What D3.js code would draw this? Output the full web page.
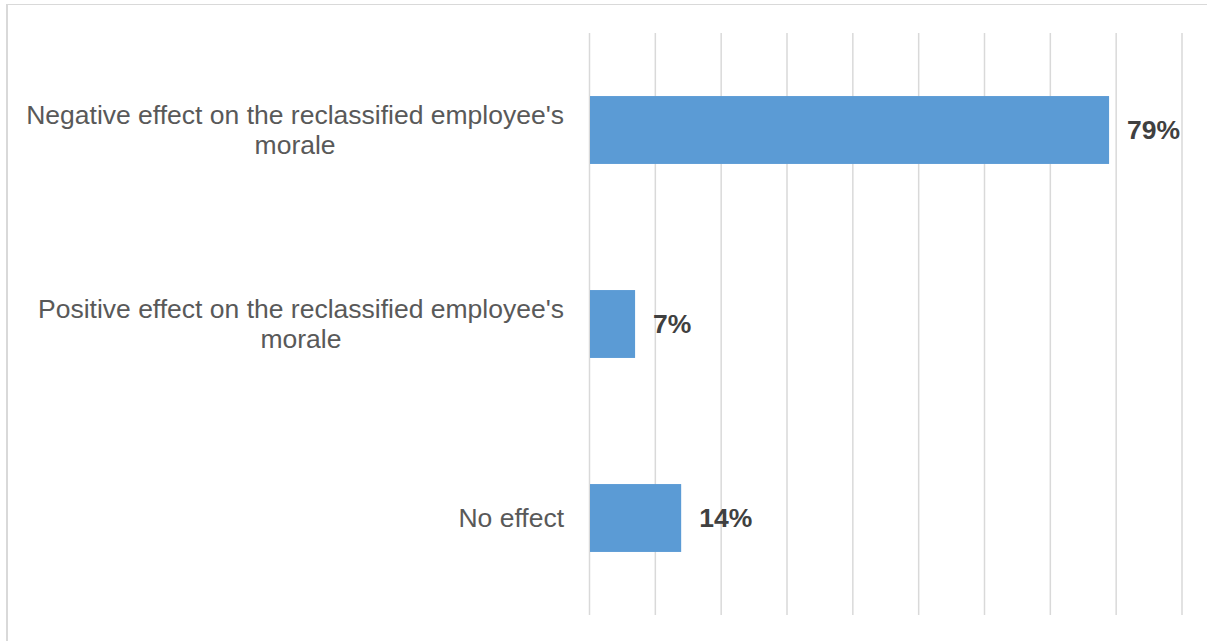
<!DOCTYPE html>
<html>
<head>
<meta charset="utf-8">
<script src="https://cdn.jsdelivr.net/npm/d3@7/dist/d3.min.js"></script>
<style>
  html, body { margin: 0; padding: 0; background: #ffffff; }
  svg { display: block; }
  text { font-family: "Liberation Sans", Arial, sans-serif; }
</style>
</head>
<body>
<svg id="chart" width="1207" height="641"></svg>
<script>
// Survey responses: effect of reclassification on morale
const categories = [
  "Negative effect on the reclassified employee's\nmorale",
  "Positive effect on the reclassified employee's\nmorale",
  "No effect"
];
const values = [0.79, 0.07, 0.14];
const gridTicks = [0, 0.1, 0.2, 0.3, 0.4, 0.5, 0.6, 0.7, 0.8, 0.9];

const W = 1207, H = 641;
const plot = { left: 589, right: 1181.5, top: 33, bottom: 615 };

const svg = d3.select("#chart");

// Outer frame (only top and left edges fall inside the view)
svg.append("line")
  .attr("x1", 6).attr("x2", W).attr("y1", 4.5).attr("y2", 4.5)
  .attr("stroke", "#d9d9d9").attr("stroke-width", 1.2);
svg.append("line")
  .attr("x1", 7).attr("x2", 7).attr("y1", 4).attr("y2", H)
  .attr("stroke", "#d9d9d9").attr("stroke-width", 2);

const x = d3.scaleLinear().domain([0, 0.9]).range([plot.left, plot.right]);
const y = d3.scaleBand().domain(categories).range([plot.top, plot.bottom]).paddingInner(0.65).paddingOuter(0.325);

// Vertical gridlines
const xAxis = d3.axisBottom(x).tickValues(gridTicks)
  .tickSize(-(plot.bottom - plot.top)).tickFormat("");
const gx = svg.append("g")
  .attr("transform", `translate(0,${plot.bottom})`)
  .call(xAxis);
gx.select(".domain").remove();
gx.selectAll(".tick line").attr("stroke", "#d9d9d9").attr("stroke-width", 1.5);

// Bars
svg.append("g").selectAll("rect")
  .data(values)
  .join("rect")
  .attr("x", x(0) + 1)
  .attr("y", (d, i) => y(categories[i]))
  .attr("width", d => x(d) - x(0) - 1)
  .attr("height", y.bandwidth())
  .attr("fill", "#5b9bd5");

// Value labels
svg.append("g").selectAll("text")
  .data(values)
  .join("text")
  .attr("x", d => x(d) + 18)
  .attr("y", (d, i) => y(categories[i]) + y.bandwidth() / 2)
  .attr("dy", "0.35em")
  .attr("font-size", 26.5)
  .attr("font-weight", "bold")
  .attr("fill", "#404040")
  .text(d => Math.round(d * 100) + "%");

// Category labels: wrapped lines centred on each other, block right-aligned
const labelRight = 564;
const fs = 26.5, lh = 30;
const lg = svg.append("g");
categories.forEach((c, i) => {
  const lines = c.split("\n");
  const cy = y(c) + y.bandwidth() / 2;
  const g = lg.append("g");
  const texts = lines.map((ln, k) => g.append("text")
    .attr("font-size", fs)
    .attr("fill", "#595959")
    .attr("text-anchor", "middle")
    .attr("y", cy + (k - (lines.length - 1) / 2) * lh)
    .attr("dy", "0.35em")
    .text(ln));
  const maxW = d3.max(texts, t => t.node().getComputedTextLength());
  texts.forEach(t => t.attr("x", labelRight - maxW / 2));
});
</script>
</body>
</html>
